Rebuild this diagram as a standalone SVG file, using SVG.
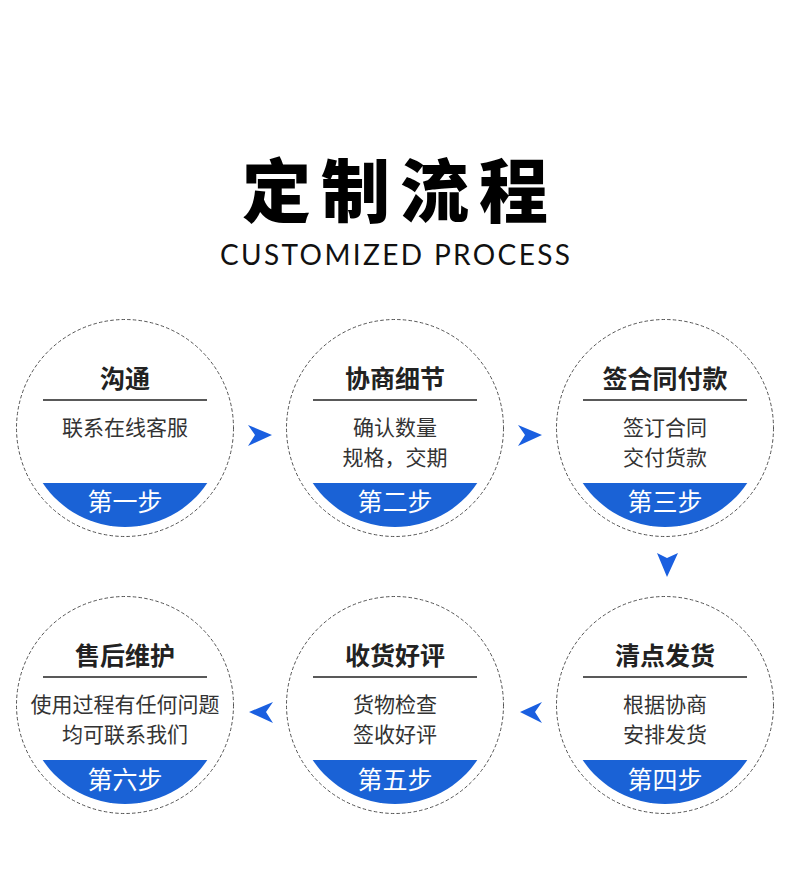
<svg xmlns="http://www.w3.org/2000/svg" width="790" height="872" viewBox="0 0 790 872">
<defs>
<style>
.ring{fill:#fff;stroke:#555;stroke-width:1;stroke-dasharray:3.5 2.2}
.band{fill:#1a62d6}
.rule{stroke:#222;stroke-width:1.5}
.ttl{font-family:"Noto Sans CJK SC",sans-serif;font-weight:700;font-size:25px;fill:#222;text-anchor:middle}
.body{font-family:"Noto Sans CJK SC",sans-serif;font-weight:400;font-size:21px;fill:#333;text-anchor:middle}
.step{font-family:"Noto Sans CJK SC",sans-serif;font-weight:400;font-size:25px;fill:#fff;text-anchor:middle}
.arw{fill:#1a5fe0}
</style>
</defs>
<rect width="790" height="872" fill="#fff"/>
<g id="header">
<text x="400" y="217" font-family="Noto Sans CJK SC, sans-serif" font-weight="900" font-size="69" fill="#000" text-anchor="middle" letter-spacing="10">定制流程</text>
<text x="220" y="265" font-family="Lato, sans-serif" font-weight="400" font-size="28" fill="#111" textLength="350" lengthAdjust="spacing">CUSTOMIZED PROCESS</text>
</g>
<g id="step1">
<circle class="ring" cx="125" cy="428" r="108.5"/>
<path class="band" d="M42.7,483 A99,99 0 0 0 207.3,483 Z"/>
<text class="ttl" x="125" y="388">沟通</text>
<line class="rule" x1="43" y1="400" x2="207" y2="400"/>
<text class="body" x="125" y="435">联系在线客服</text>
<text class="step" x="125" y="511">第一步</text>
</g>
<g id="step2">
<circle class="ring" cx="395" cy="428" r="108.5"/>
<path class="band" d="M312.7,483 A99,99 0 0 0 477.3,483 Z"/>
<text class="ttl" x="395" y="388">协商细节</text>
<line class="rule" x1="313" y1="400" x2="477" y2="400"/>
<text class="body" x="395" y="435">确认数量</text>
<text class="body" x="395" y="465">规格，交期</text>
<text class="step" x="395" y="511">第二步</text>
</g>
<g id="step3">
<circle class="ring" cx="665" cy="428" r="108.5"/>
<path class="band" d="M582.7,483 A99,99 0 0 0 747.3,483 Z"/>
<text class="ttl" x="665" y="388">签合同付款</text>
<line class="rule" x1="583" y1="400" x2="747" y2="400"/>
<text class="body" x="665" y="435">签订合同</text>
<text class="body" x="665" y="465">交付货款</text>
<text class="step" x="665" y="511">第三步</text>
</g>
<g id="step4">
<circle class="ring" cx="665" cy="705" r="108.5"/>
<path class="band" d="M582.7,760 A99,99 0 0 0 747.3,760 Z"/>
<text class="ttl" x="665" y="665">清点发货</text>
<line class="rule" x1="583" y1="677" x2="747" y2="677"/>
<text class="body" x="665" y="712">根据协商</text>
<text class="body" x="665" y="742">安排发货</text>
<text class="step" x="665" y="789">第四步</text>
</g>
<g id="step5">
<circle class="ring" cx="395" cy="705" r="108.5"/>
<path class="band" d="M312.7,760 A99,99 0 0 0 477.3,760 Z"/>
<text class="ttl" x="395" y="665">收货好评</text>
<line class="rule" x1="313" y1="677" x2="477" y2="677"/>
<text class="body" x="395" y="712">货物检查</text>
<text class="body" x="395" y="742">签收好评</text>
<text class="step" x="395" y="789">第五步</text>
</g>
<g id="step6">
<circle class="ring" cx="125" cy="705" r="108.5"/>
<path class="band" d="M42.7,760 A99,99 0 0 0 207.3,760 Z"/>
<text class="ttl" x="125" y="665">售后维护</text>
<line class="rule" x1="43" y1="677" x2="207" y2="677"/>
<text class="body" x="125" y="712">使用过程有任何问题</text>
<text class="body" x="125" y="742">均可联系我们</text>
<text class="step" x="125" y="789">第六步</text>
</g>
<g id="connectors">
<path class="arw" d="M248,425 L272,435 L248,446 L255,435 Z"/>
<path class="arw" d="M518,425 L542,435 L518,446 L525,435 Z"/>
<path class="arw" d="M657,553 L667,558 L678,553 L667,577 Z"/>
<path class="arw" d="M542,702 L520,712 L542,723 L535,712 Z"/>
<path class="arw" d="M273,702 L249,712 L273,723 L266,712 Z"/>
</g>
</svg>
